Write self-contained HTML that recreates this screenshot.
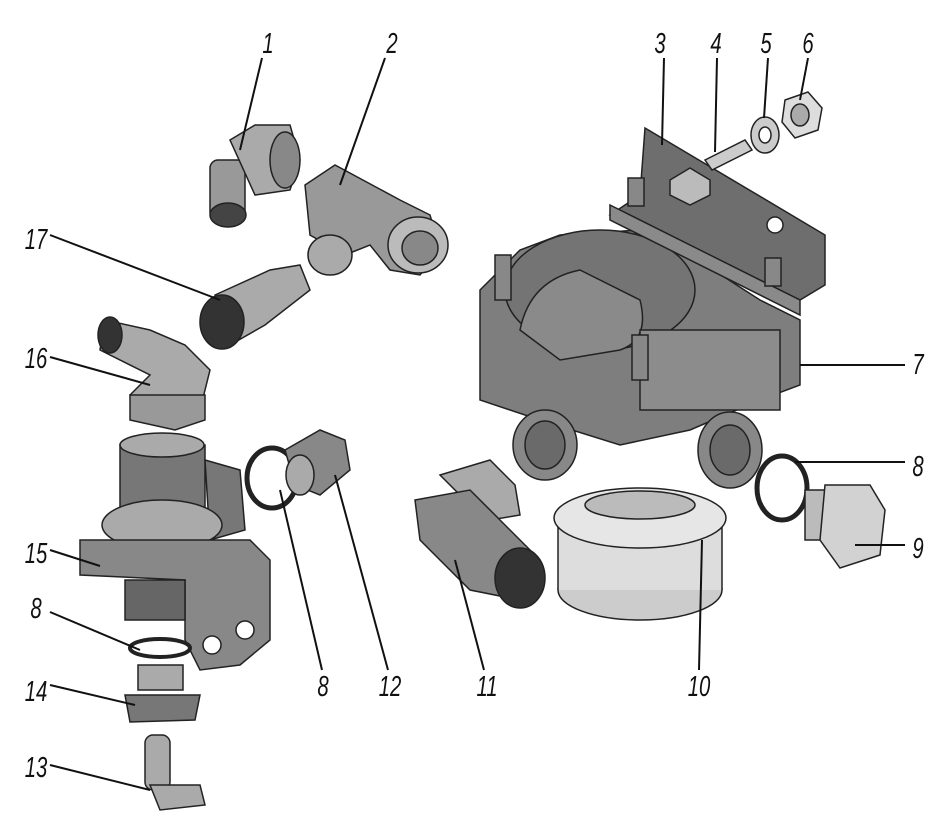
<!DOCTYPE html>
<html><head><meta charset="utf-8"><style>
html,body{margin:0;padding:0;background:#fff}
svg{display:block}
text{font-family:"Liberation Sans",sans-serif;font-style:italic;font-size:29px;fill:#111}
</style></head><body>
<svg width="951" height="827" viewBox="0 0 951 827" xmlns="http://www.w3.org/2000/svg">
<g stroke="#222" stroke-width="1.5">
<polygon points="480,290 520,250 560,235 640,230 690,255 760,300 800,320 800,385 760,400 690,430 620,445 540,420 480,400" fill="#7e7e7e"/>
<ellipse cx="600" cy="290" rx="95" ry="60" fill="#747474"/>
<path d="M520,330 Q530,280 580,270 L640,300 Q650,340 620,350 L560,360 Z" fill="#8a8a8a"/>
<rect x="640" y="330" width="140" height="80" fill="#8c8c8c"/>
<ellipse cx="545" cy="445" rx="32" ry="35" fill="#888"/>
<ellipse cx="545" cy="445" rx="20" ry="24" fill="#6a6a6a"/>
<ellipse cx="730" cy="450" rx="32" ry="38" fill="#888"/>
<ellipse cx="730" cy="450" rx="20" ry="25" fill="#6a6a6a"/>
<polygon points="645,128 825,235 825,285 800,300 610,215 640,195" fill="#6e6e6e"/>
<polygon points="610,205 800,300 800,315 610,220" fill="#8a8a8a"/>
<circle cx="775" cy="225" r="8" fill="#fff"/>
<polygon points="670,180 690,168 710,180 710,195 690,205 670,195" fill="#bbb"/>
<rect x="495" y="255" width="16" height="45" fill="#888"/>
<rect x="632" y="335" width="16" height="45" fill="#888"/>
<rect x="628" y="178" width="16" height="28" fill="#888"/>
<rect x="765" y="258" width="16" height="28" fill="#888"/>
<ellipse cx="640" cy="590" rx="82" ry="30" fill="#ccc"/>
<rect x="558" y="520" width="164" height="70" fill="#ddd" stroke="none"/>
<line x1="558" y1="520" x2="558" y2="590"/><line x1="722" y1="520" x2="722" y2="590"/>
<ellipse cx="640" cy="518" rx="86" ry="30" fill="#e6e6e6"/>
<ellipse cx="640" cy="505" rx="55" ry="14" fill="#bbb"/>
<polygon points="705,160 745,140 752,150 712,170" fill="#ccc"/>
<ellipse cx="765" cy="135" rx="14" ry="18" fill="#ccc"/>
<ellipse cx="765" cy="135" rx="6" ry="8" fill="#fff"/>
<polygon points="785,100 808,92 822,108 818,130 795,138 782,122" fill="#ddd"/>
<ellipse cx="800" cy="115" rx="9" ry="11" fill="#aaa"/>
<ellipse cx="782" cy="488" rx="25" ry="32" fill="none" stroke-width="5"/>
<rect x="805" y="490" width="35" height="50" fill="#bbb"/>
<polygon points="825,485 870,485 885,510 880,555 840,568 820,540" fill="#d2d2d2"/>
<rect x="210" y="160" width="35" height="60" rx="8" fill="#999"/>
<ellipse cx="228" cy="215" rx="18" ry="12" fill="#444"/>
<polygon points="230,140 255,125 290,125 300,160 290,190 255,195" fill="#aaa"/>
<ellipse cx="285" cy="160" rx="15" ry="28" fill="#888"/>
<polygon points="305,185 335,165 400,200 430,215 440,250 420,275 390,270 370,245 345,255 310,235" fill="#999"/>
<ellipse cx="330" cy="255" rx="22" ry="20" fill="#aaa"/>
<ellipse cx="418" cy="245" rx="30" ry="28" fill="#bbb"/>
<ellipse cx="420" cy="248" rx="18" ry="17" fill="#888"/>
<polygon points="215,295 270,270 300,265 310,290 265,325 230,345" fill="#aaa"/>
<ellipse cx="222" cy="322" rx="22" ry="27" fill="#333"/>
<polygon points="105,320 150,330 185,345 210,370 200,410 150,420 130,395 150,375 100,350" fill="#aaa"/>
<ellipse cx="110" cy="335" rx="12" ry="18" fill="#333"/>
<polygon points="130,395 205,395 205,420 175,430 130,420" fill="#999"/>
<rect x="120" y="445" width="85" height="70" fill="#777"/>
<polygon points="205,460 240,470 245,530 210,540" fill="#777"/>
<ellipse cx="162" cy="445" rx="42" ry="12" fill="#aaa"/>
<ellipse cx="162" cy="525" rx="60" ry="25" fill="#aaa"/>
<polygon points="80,540 250,540 270,560 270,640 240,665 200,670 185,640 185,580 80,575" fill="#888"/>
<rect x="125" y="580" width="60" height="40" fill="#666"/>
<circle cx="212" cy="645" r="9" fill="#fff"/><circle cx="245" cy="630" r="9" fill="#fff"/>
<ellipse cx="160" cy="648" rx="30" ry="9" fill="none" stroke-width="4"/>
<rect x="138" y="665" width="45" height="25" fill="#aaa"/>
<polygon points="125,695 200,695 195,720 130,722" fill="#777"/>
<rect x="145" y="735" width="25" height="55" rx="8" fill="#aaa"/>
<polygon points="150,785 200,785 205,805 160,810" fill="#aaa"/>
<ellipse cx="272" cy="478" rx="25" ry="30" fill="none" stroke-width="5"/>
<polygon points="285,450 320,430 345,440 350,470 320,495 295,485" fill="#888"/>
<ellipse cx="300" cy="475" rx="14" ry="20" fill="#aaa"/>
<polygon points="440,475 490,460 515,485 520,515 490,520 470,505" fill="#aaa"/>
<polygon points="415,500 470,490 540,560 520,600 470,590 420,540" fill="#888"/>
<ellipse cx="520" cy="578" rx="25" ry="30" fill="#333"/>
</g>
<g stroke="#111" stroke-width="2" fill="none">
<line x1="262" y1="58" x2="240" y2="150"/>
<line x1="385" y1="58" x2="340" y2="185"/>
<line x1="664" y1="58" x2="662" y2="145"/>
<line x1="717" y1="58" x2="715" y2="152"/>
<line x1="768" y1="58" x2="764" y2="118"/>
<line x1="808" y1="58" x2="800" y2="100"/>
<line x1="50" y1="235" x2="220" y2="300"/>
<line x1="50" y1="357" x2="150" y2="385"/>
<line x1="905" y1="365" x2="800" y2="365"/>
<line x1="905" y1="462" x2="795" y2="462"/>
<line x1="905" y1="545" x2="855" y2="545"/>
<line x1="50" y1="550" x2="100" y2="566"/>
<line x1="50" y1="612" x2="140" y2="650"/>
<line x1="50" y1="685" x2="135" y2="705"/>
<line x1="50" y1="765" x2="150" y2="790"/>
<line x1="322" y1="670" x2="280" y2="490"/>
<line x1="388" y1="670" x2="335" y2="475"/>
<line x1="484" y1="670" x2="455" y2="560"/>
<line x1="699" y1="670" x2="702" y2="540"/>
</g>
<g text-anchor="middle">
<text transform="translate(268,53) scale(0.7,1)">1</text>
<text transform="translate(392,53) scale(0.7,1)">2</text>
<text transform="translate(660,53) scale(0.7,1)">3</text>
<text transform="translate(716,53) scale(0.7,1)">4</text>
<text transform="translate(766,53) scale(0.7,1)">5</text>
<text transform="translate(808,53) scale(0.7,1)">6</text>
<text transform="translate(36,249) scale(0.7,1)">17</text>
<text transform="translate(36,368) scale(0.7,1)">16</text>
<text transform="translate(918,374) scale(0.7,1)">7</text>
<text transform="translate(918,476) scale(0.7,1)">8</text>
<text transform="translate(918,558) scale(0.7,1)">9</text>
<text transform="translate(36,563) scale(0.7,1)">15</text>
<text transform="translate(36,618) scale(0.7,1)">8</text>
<text transform="translate(36,701) scale(0.7,1)">14</text>
<text transform="translate(36,777) scale(0.7,1)">13</text>
<text transform="translate(323,696) scale(0.7,1)">8</text>
<text transform="translate(390,696) scale(0.7,1)">12</text>
<text transform="translate(487,696) scale(0.7,1)">11</text>
<text transform="translate(699,696) scale(0.7,1)">10</text>
</g>
</svg>
</body></html>
